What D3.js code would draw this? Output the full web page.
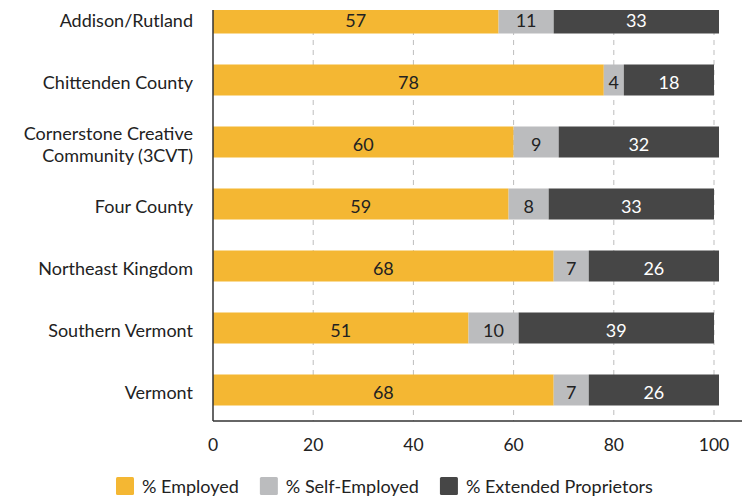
<!DOCTYPE html>
<html>
<head>
<meta charset="utf-8">
<script src="https://cdn.jsdelivr.net/npm/d3@7"></script>
<style>
  body { margin: 0; background: #fff; }
  text { font-family: Lato, "Noto Sans", sans-serif; }
</style>
</head>
<body>
<div id="chart"></div>
<script>
const categories = [
  'Addison/Rutland',
  'Chittenden County',
  'Cornerstone Creative Community (3CVT)',
  'Four County',
  'Northeast Kingdom',
  'Southern Vermont',
  'Vermont'
];
const employed = [57, 78, 60, 59, 68, 51, 68];
const selfEmployed = [11, 4, 9, 8, 7, 10, 7];
const extendedProprietors = [33, 18, 32, 33, 26, 39, 26];
const seriesNames = ['% Employed', '% Self-Employed', '% Extended Proprietors'];
const xTicks = [0, 20, 40, 60, 80, 100];

const colors = ['#F4B733', '#BBBCBE', '#464646'];
const labelColors = ['#222', '#222', '#fff'];

const width = 742;
const height = 498;
const margin = { top: 10, right: 0, bottom: 77, left: 213 };
const innerWidth = width - margin.left - margin.right;
const innerHeight = height - margin.top - margin.bottom;

const rows = categories.map((name, i) => {
  let acc = 0;
  return {
    name,
    segs: [employed[i], selfEmployed[i], extendedProprietors[i]].map((v, k) => {
      const s = { start: acc, end: acc + v, value: v, k };
      acc += v;
      return s;
    })
  };
});

const svg = d3.select('#chart')
  .append('svg')
  .attr('width', width)
  .attr('height', height);

svg.append('defs').append('clipPath')
  .attr('id', 'plot-clip')
  .append('rect')
  .attr('x', 0)
  .attr('y', 0)
  .attr('width', innerWidth)
  .attr('height', innerHeight);

const g = svg.append('g')
  .attr('transform', `translate(${margin.left}, ${margin.top})`);

const scaleX = d3.scaleLinear().domain([0, 100]).range([0, 501]);

// the top band runs past the plot edge, as in the source
const scaleY = d3.scaleBand()
  .domain(categories)
  .range([-23, innerHeight])
  .paddingInner(0.5)
  .paddingOuter(0.25);

const bw = scaleY.bandwidth();

// dashed grid
g.append('g')
  .selectAll('line')
  .data(xTicks.filter(t => t > 0))
  .enter()
  .append('line')
  .attr('x1', d => scaleX(d))
  .attr('x2', d => scaleX(d))
  .attr('y1', 0)
  .attr('y2', innerHeight)
  .attr('stroke', '#bdbdbd')
  .attr('stroke-width', 1)
  .attr('stroke-dasharray', '5,5');

// bars (clipped)
g.append('g')
  .attr('clip-path', 'url(#plot-clip)')
  .selectAll('.row')
  .data(rows)
  .enter()
  .append('g')
  .attr('class', 'row')
  .attr('transform', d => `translate(0, ${scaleY(d.name)})`)
  .selectAll('rect')
  .data(d => d.segs)
  .enter()
  .append('rect')
  .attr('x', d => scaleX(d.start))
  .attr('width', d => scaleX(d.end) - scaleX(d.start))
  .attr('height', bw)
  .attr('fill', d => colors[d.k]);

// value labels
g.append('g')
  .selectAll('.vrow')
  .data(rows)
  .enter()
  .append('g')
  .attr('class', 'vrow')
  .attr('transform', d => `translate(0, ${scaleY(d.name) + bw / 2})`)
  .selectAll('text')
  .data(d => d.segs)
  .enter()
  .append('text')
  .attr('x', d => (scaleX(d.start) + scaleX(d.end)) / 2)
  .attr('y', 0)
  .attr('dy', '0.48em')
  .attr('text-anchor', 'middle')
  .attr('font-size', 18)
  .attr('fill', d => labelColors[d.k])
  .text(d => d.value);

// axes lines
g.append('line')
  .attr('x1', 0).attr('x2', 0)
  .attr('y1', 0).attr('y2', innerHeight)
  .attr('stroke', '#333')
  .attr('stroke-width', 1.5);

g.append('line')
  .attr('x1', 0).attr('x2', innerWidth)
  .attr('y1', innerHeight).attr('y2', innerHeight)
  .attr('stroke', '#333')
  .attr('stroke-width', 1.5);

// x tick labels
g.append('g')
  .selectAll('text')
  .data(xTicks)
  .enter()
  .append('text')
  .attr('x', d => scaleX(d))
  .attr('y', innerHeight + 24)
  .attr('dy', '0.36em')
  .attr('text-anchor', 'middle')
  .attr('font-size', 17.5)
  .attr('fill', '#222')
  .text(d => d);

// category labels, wrapped
const catLabels = g.append('g')
  .selectAll('text')
  .data(categories)
  .enter()
  .append('text')
  .attr('text-anchor', 'end')
  .attr('font-size', 18)
  .attr('fill', '#222')
  .attr('x', -20);

catLabels.each(function (name) {
  const el = d3.select(this);
  const words = name.split(' ');
  const lines = [];
  let line = [];
  const probe = el.append('tspan');
  words.forEach(w => {
    line.push(w);
    probe.text(line.join(' '));
    if (probe.node().getComputedTextLength() > 185 && line.length > 1) {
      line.pop();
      lines.push(line.join(' '));
      line = [w];
    }
  });
  lines.push(line.join(' '));
  probe.remove();
  const cy = scaleY(name) + bw / 2;
  const lh = 22;
  lines.forEach((t, i) => {
    el.append('tspan')
      .attr('x', -20)
      .attr('y', cy + (i - (lines.length - 1) / 2) * lh)
      .attr('dy', '0.48em')
      .text(t);
  });
});

// legend
const legend = svg.append('g')
  .attr('transform', `translate(116, 477)`);

let lx = 0;
seriesNames.forEach((name, k) => {
  const item = legend.append('g').attr('transform', `translate(${lx}, 0)`);
  item.append('rect')
    .attr('width', 18)
    .attr('height', 18)
    .attr('rx', 1.5)
    .attr('fill', colors[k]);
  const t = item.append('text')
    .attr('x', 26)
    .attr('y', 9)
    .attr('dy', '0.4em')
    .attr('font-size', 18)
    .attr('fill', '#222')
    .text(name);
  lx += 26 + t.node().getComputedTextLength() + 21;
});
</script>
</body>
</html>
